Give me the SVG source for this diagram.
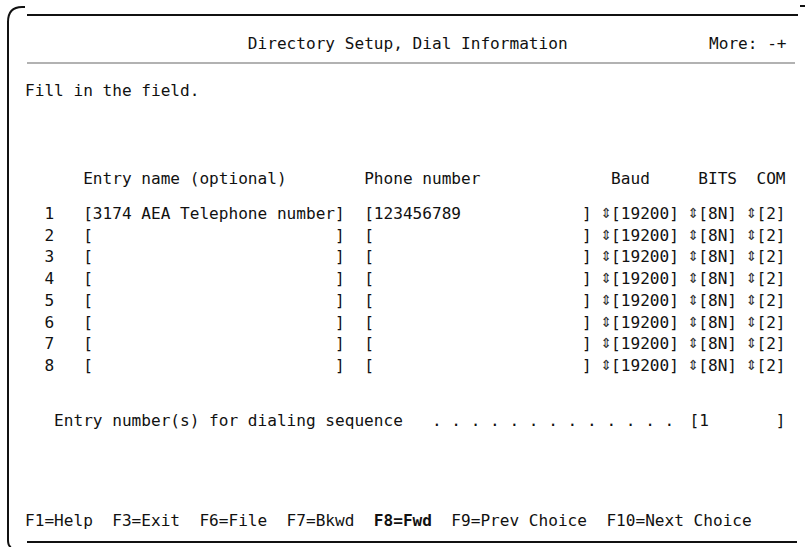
<svg xmlns="http://www.w3.org/2000/svg" width="806" height="547" viewBox="0 0 806 547">
<style>
text{font-family:"DejaVu Sans Mono","Liberation Mono",monospace;font-size:16.1px;fill:#111;white-space:pre}
.b{font-weight:bold}
.ar{font-family:"DejaVu Sans","Noto Sans",sans-serif;font-size:14px;fill:#333;text-anchor:middle}
.frame{fill:none;stroke:#111;stroke-width:2}
.sep{fill:none;stroke:#666;stroke-width:1.2}
</style>
<rect width="806" height="547" fill="#fff"/>
<g id="frame">
<path class="frame" d="M8,540 L8,22 Q8,7 22,7 L25,7"/>
<path class="frame" d="M8,540 Q8,546 11,547"/>
<line class="frame" x1="27" y1="15" x2="798" y2="15"/>
<line class="frame" x1="800" y1="6" x2="805" y2="6" stroke-width="1.5"/>
<line class="sep" x1="27" y1="63" x2="795" y2="63"/>
<line class="frame" x1="27" y1="542" x2="797" y2="542"/>
</g>
<g id="title">
<text x="247.87" y="49">Directory Setup, Dial Information</text>
<text x="709" y="49">More: -+</text>
</g>
<g id="instruction">
<text x="25" y="96">Fill in the field.</text>
</g>
<g id="header">
<text x="83.14" y="184">Entry name (optional)</text>
<text x="364.15" y="184">Phone number</text>
<text x="611.09" y="184">Baud</text>
<text x="698.3" y="184">BITS</text>
<text x="756.44" y="184">COM</text>
</g>
<g id="row1">
<text x="44.38" y="219">1</text>
<text x="83.14" y="219">[3174 AEA Telephone number]</text>
<text x="364.15" y="219">[123456789</text>
<text x="582.02" y="219">]</text>
<text class="ar" x="606.25" y="218">⇕</text><text x="611.09" y="219">[19200]</text>
<text class="ar" x="693.46" y="218">⇕</text><text x="698.3" y="219">[8N]</text>
<text class="ar" x="751.6" y="218">⇕</text><text x="756.44" y="219">[2]</text>
</g>
<g id="row2">
<text x="44.38" y="240.7">2</text>
<text x="83.14" y="240.7">[</text><text x="335.08" y="240.7">]</text>
<text x="364.15" y="240.7">[</text><text x="582.02" y="240.7">]</text>
<text class="ar" x="606.25" y="239.7">⇕</text><text x="611.09" y="240.7">[19200]</text>
<text class="ar" x="693.46" y="239.7">⇕</text><text x="698.3" y="240.7">[8N]</text>
<text class="ar" x="751.6" y="239.7">⇕</text><text x="756.44" y="240.7">[2]</text>
</g>
<g id="row3">
<text x="44.38" y="262.4">3</text>
<text x="83.14" y="262.4">[</text><text x="335.08" y="262.4">]</text>
<text x="364.15" y="262.4">[</text><text x="582.02" y="262.4">]</text>
<text class="ar" x="606.25" y="261.4">⇕</text><text x="611.09" y="262.4">[19200]</text>
<text class="ar" x="693.46" y="261.4">⇕</text><text x="698.3" y="262.4">[8N]</text>
<text class="ar" x="751.6" y="261.4">⇕</text><text x="756.44" y="262.4">[2]</text>
</g>
<g id="row4">
<text x="44.38" y="284.1">4</text>
<text x="83.14" y="284.1">[</text><text x="335.08" y="284.1">]</text>
<text x="364.15" y="284.1">[</text><text x="582.02" y="284.1">]</text>
<text class="ar" x="606.25" y="283.1">⇕</text><text x="611.09" y="284.1">[19200]</text>
<text class="ar" x="693.46" y="283.1">⇕</text><text x="698.3" y="284.1">[8N]</text>
<text class="ar" x="751.6" y="283.1">⇕</text><text x="756.44" y="284.1">[2]</text>
</g>
<g id="row5">
<text x="44.38" y="305.8">5</text>
<text x="83.14" y="305.8">[</text><text x="335.08" y="305.8">]</text>
<text x="364.15" y="305.8">[</text><text x="582.02" y="305.8">]</text>
<text class="ar" x="606.25" y="304.8">⇕</text><text x="611.09" y="305.8">[19200]</text>
<text class="ar" x="693.46" y="304.8">⇕</text><text x="698.3" y="305.8">[8N]</text>
<text class="ar" x="751.6" y="304.8">⇕</text><text x="756.44" y="305.8">[2]</text>
</g>
<g id="row6">
<text x="44.38" y="327.5">6</text>
<text x="83.14" y="327.5">[</text><text x="335.08" y="327.5">]</text>
<text x="364.15" y="327.5">[</text><text x="582.02" y="327.5">]</text>
<text class="ar" x="606.25" y="326.5">⇕</text><text x="611.09" y="327.5">[19200]</text>
<text class="ar" x="693.46" y="326.5">⇕</text><text x="698.3" y="327.5">[8N]</text>
<text class="ar" x="751.6" y="326.5">⇕</text><text x="756.44" y="327.5">[2]</text>
</g>
<g id="row7">
<text x="44.38" y="349.2">7</text>
<text x="83.14" y="349.2">[</text><text x="335.08" y="349.2">]</text>
<text x="364.15" y="349.2">[</text><text x="582.02" y="349.2">]</text>
<text class="ar" x="606.25" y="348.2">⇕</text><text x="611.09" y="349.2">[19200]</text>
<text class="ar" x="693.46" y="348.2">⇕</text><text x="698.3" y="349.2">[8N]</text>
<text class="ar" x="751.6" y="348.2">⇕</text><text x="756.44" y="349.2">[2]</text>
</g>
<g id="row8">
<text x="44.38" y="370.9">8</text>
<text x="83.14" y="370.9">[</text><text x="335.08" y="370.9">]</text>
<text x="364.15" y="370.9">[</text><text x="582.02" y="370.9">]</text>
<text class="ar" x="606.25" y="369.9">⇕</text><text x="611.09" y="370.9">[19200]</text>
<text class="ar" x="693.46" y="369.9">⇕</text><text x="698.3" y="370.9">[8N]</text>
<text class="ar" x="751.6" y="369.9">⇕</text><text x="756.44" y="370.9">[2]</text>
</g>
<g id="sequence">
<text x="54.07" y="426">Entry number(s) for dialing sequence</text>
<text x="431.98" y="426">. . . . . . . . . . . . .</text>
<text x="689.6" y="426">[1</text>
<text x="775.8" y="426">]</text>
</g>
<g id="fkeys">
<text x="25" y="526">F1=Help  F3=Exit  F6=File  F7=Bkwd  <tspan class="b">F8=Fwd</tspan>  F9=Prev Choice  F10=Next Choice</text>
</g>
</svg>
